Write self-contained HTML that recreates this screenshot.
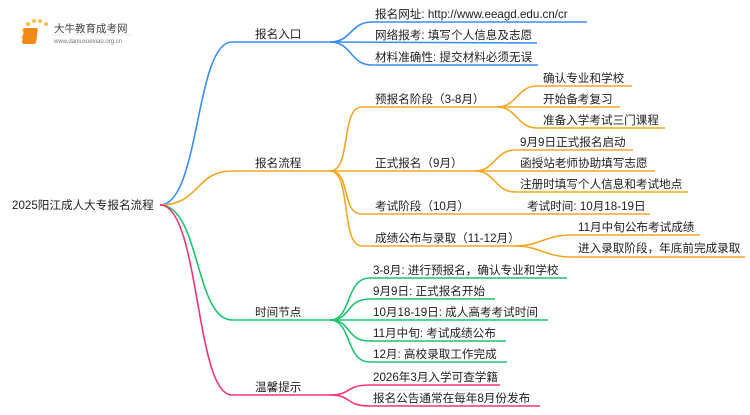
<!DOCTYPE html>
<html><head><meta charset="utf-8"><style>
html,body{margin:0;padding:0;background:#fff;}
svg text{font-family:"Liberation Sans","Noto Sans CJK SC",sans-serif;font-size:11.6px;fill:#222;}
</style></head><body>
<svg width="750" height="410" viewBox="0 0 750 410" xmlns="http://www.w3.org/2000/svg">
<g fill="none" stroke-width="1.6">
<path d="M160,205 C200,205 195,42 232,42 L330,42" stroke="#3a8ef6"/>
<path d="M160,205 C200,205 195,171 232,171 L330,171" stroke="#f5a623"/>
<path d="M160,205 C200,205 195,320 232,320 L330,320" stroke="#1ec36e"/>
<path d="M160,205 C200,205 195,395 232,395 L330,395" stroke="#f0357a"/>
<g stroke="#3a8ef6">
<path d="M330,42 C352,42 350,22 372,22 L587,22"/>
<path d="M330,42 L537,43"/>
<path d="M330,42 C352,42 350,65 372,65 L538,65"/>
</g>
<g stroke="#f5a623">
<path d="M330,171 C352,171 340,107 362,107 L497,107"/>
<path d="M330,171 L475,171"/>
<path d="M330,171 C352,171 340,214 362,214 L475,214 L650,214"/>
<path d="M330,171 C352,171 340,246 362,246 L515,246"/>
<path d="M497,107 C517,107 517,86 537,86 L632,86"/>
<path d="M497,107 L620,107"/>
<path d="M497,107 C517,107 517,128 537,128 L665,128"/>
<path d="M475,171 C495,171 495,150 515,150 L633,150"/>
<path d="M475,171 L655,171"/>
<path d="M475,171 C495,171 495,192 515,192 L688,192"/>
<path d="M515,246 C540,246 545,235 572,235 L700,235"/>
<path d="M515,246 C540,246 545,257 572,257 L745,257"/>
</g>
<g stroke="#1ec36e">
<path d="M330,320 C352,320 345,278 370,278 L567,278"/>
<path d="M330,320 C352,320 345,299 370,299 L495,299"/>
<path d="M330,320 L548,320"/>
<path d="M330,320 C352,320 345,341 370,341 L506,341"/>
<path d="M330,320 C352,320 345,362 370,362 L507,362"/>
</g>
<g stroke="#f0357a">
<path d="M330,395 C352,395 345,385 370,385 L500,385"/>
<path d="M330,395 C352,395 345,406 370,406 L540,406"/>
</g>
</g>
<g>
<circle cx="24" cy="30" r="2" fill="#f7c04a"/><circle cx="28" cy="24" r="2" fill="#f7c04a"/><circle cx="34" cy="21" r="2" fill="#f7c04a"/><circle cx="40" cy="21" r="2" fill="#f7c04a"/><circle cx="46" cy="24" r="2" fill="#f7c04a"/><circle cx="23" cy="37" r="1.6" fill="#f7c04a"/>
<rect x="28" y="28" width="14" height="16" rx="2" fill="#f08a1a" transform="skewX(-8)"/>
<text x="54" y="32" style="font-size:10.5px;fill:#444">大牛教育成考网</text>
<text x="54" y="43" style="font-size:6px;fill:#777">www.daniuxuexiao.org.cn</text>
<line x1="52" y1="35" x2="132" y2="35" stroke="#ddd" stroke-width="0.6"/>
</g>
<text x="12" y="209">2025阳江成人大专报名流程</text>
<text x="255" y="38">报名入口</text>
<text x="255" y="167">报名流程</text>
<text x="255" y="316">时间节点</text>
<text x="255" y="391">温馨提示</text>
<text x="375" y="18">报名网址: http://www.eeagd.edu.cn/cr</text>
<text x="375" y="39">网络报考: 填写个人信息及志愿</text>
<text x="375" y="61">材料准确性: 提交材料必须无误</text>
<text x="375" y="103">预报名阶段（3-8月）</text>
<text x="375" y="167">正式报名（9月）</text>
<text x="375" y="210">考试阶段（10月）</text>
<text x="375" y="242">成绩公布与录取（11-12月）</text>
<text x="543" y="82">确认专业和学校</text>
<text x="543" y="103">开始备考复习</text>
<text x="543" y="124">准备入学考试三门课程</text>
<text x="520" y="146">9月9日正式报名启动</text>
<text x="520" y="167">函授站老师协助填写志愿</text>
<text x="520" y="188">注册时填写个人信息和考试地点</text>
<text x="527" y="210">考试时间: 10月18-19日</text>
<text x="578" y="231">11月中旬公布考试成绩</text>
<text x="578" y="252">进入录取阶段，年底前完成录取</text>
<text x="373" y="274">3-8月: 进行预报名，确认专业和学校</text>
<text x="373" y="295">9月9日: 正式报名开始</text>
<text x="373" y="316">10月18-19日: 成人高考考试时间</text>
<text x="373" y="337">11月中旬: 考试成绩公布</text>
<text x="373" y="358">12月: 高校录取工作完成</text>
<text x="373" y="381">2026年3月入学可查学籍</text>
<text x="373" y="402">报名公告通常在每年8月份发布</text>
</svg>
</body></html>
